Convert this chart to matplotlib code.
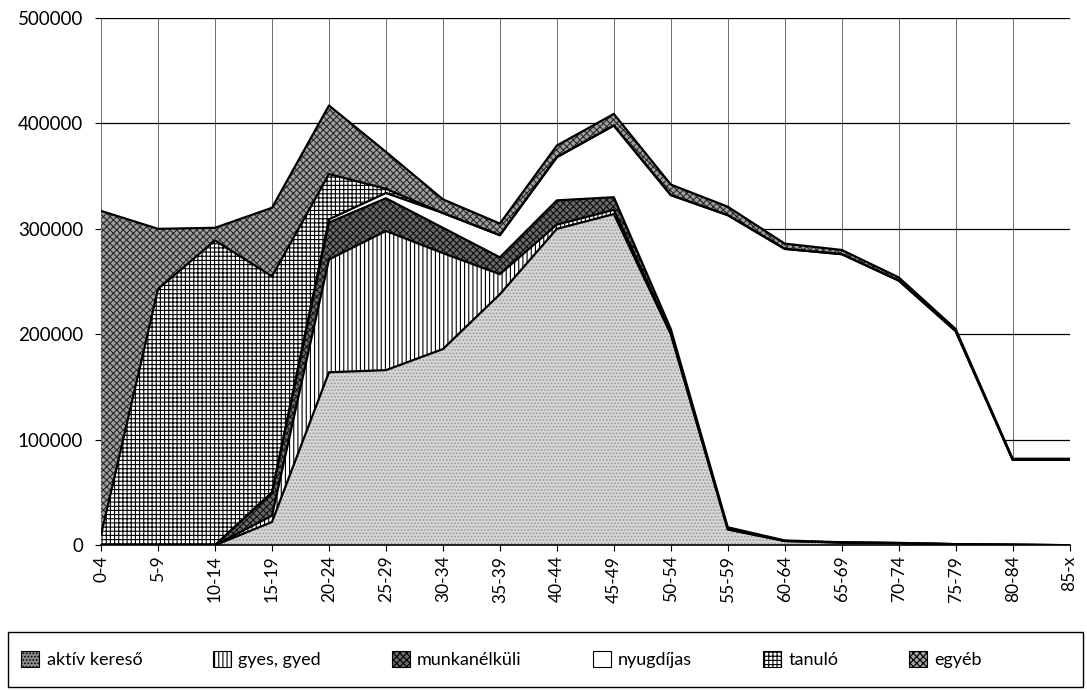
import matplotlib
matplotlib.use('Agg')
import matplotlib.pyplot as plt
from matplotlib.patches import Patch, Rectangle
import numpy as np

plt.rcParams['font.family'] = ['Lato', 'DejaVu Sans']
plt.rcParams['hatch.linewidth'] = 0.8

# korcsoportok
age_groups = ["0-4", "5-9", "10-14", "15-19", "20-24", "25-29", "30-34", "35-39",
              "40-44", "45-49", "50-54", "55-59", "60-64", "65-69", "70-74",
              "75-79", "80-84", "85-x"]

aktiv = [0, 0, 0, 22000, 164000, 166000, 186000, 238000, 300000, 314000,
         200000, 15000, 4000, 2500, 2000, 1000, 500, 0]
gyes = [0, 0, 0, 6000, 107000, 132000, 91000, 19000, 4000, 4000,
        1000, 0, 0, 0, 0, 0, 0, 0]
munkanelkuli = [0, 0, 0, 22000, 35000, 31000, 24000, 16000, 23000, 12000,
                4000, 2000, 500, 300, 200, 0, 0, 0]
nyugdijas = [0, 0, 0, 0, 3000, 5000, 14000, 21000, 41000, 68000,
             127000, 296000, 276500, 273200, 248800, 202000, 80500, 81000]
tanulo = [10000, 243000, 289000, 205000, 43000, 4000, 0, 0, 0, 0,
          0, 0, 0, 0, 0, 0, 0, 0]
egyeb = [307000, 57000, 12000, 65000, 65000, 35000, 13000, 11000, 11000, 11000,
         10000, 8000, 5000, 4000, 3000, 2000, 1000, 1000]

labels = ["aktív kereső", "gyes, gyed", "munkanélküli", "nyugdíjas", "tanuló", "egyéb"]
series = [aktiv, gyes, munkanelkuli, nyugdijas, tanulo, egyeb]

# kitöltés, mintázat, mintázat színe
styles = [
    ('#d6d6d6', '.....', '#9a9a9a'),
    ('white', '||||', 'black'),
    ('#6a6a6a', 'xxxxx', '#111111'),
    ('white', None, 'black'),
    ('white', '++++', 'black'),
    ('#a0a0a0', 'xxxxx', '#2a2a2a'),
]

fig = plt.figure(figsize=(10.87, 6.91), dpi=100)
ax = fig.add_axes([0.093, 0.211, 0.891, 0.763])

x = np.arange(len(age_groups))
bottom = np.zeros(len(x))
handles = []
for vals, lab, (fc, hatch, hc) in zip(series, labels, styles):
    top = bottom + np.array(vals)
    ax.fill_between(x, bottom, top, facecolor=fc, hatch=hatch,
                    edgecolor=hc, linewidth=0, zorder=2)
    ax.plot(x, top, color='black', linewidth=1.6, zorder=3)
    leg_fc = '#8c8c8c' if lab == "aktív kereső" else fc
    handles.append(Patch(facecolor=leg_fc, hatch=hatch, edgecolor='black',
                         linewidth=0.8))
    bottom = top

ax.set_xlim(0, len(x) - 1)
ax.set_ylim(0, 500000)
ax.set_xticks(x)
ax.set_xticklabels(age_groups, rotation=90, fontsize=12.5)
yt = [0, 100000, 200000, 300000, 400000, 500000]
ax.set_yticks(yt)
ax.set_yticklabels([str(v) for v in yt], fontsize=13.5)
ax.tick_params(axis='both', direction='out', length=4, width=0.8, colors='black')
ax.tick_params(axis='y', pad=9)

ax.grid(True, axis='y', color='black', linewidth=0.9)
ax.grid(True, axis='x', color='#555555', linewidth=0.6)
ax.set_axisbelow(True)
for side in ['top', 'right', 'left']:
    ax.spines[side].set_visible(False)
ax.spines['bottom'].set_linewidth(1.2)
ax.spines['bottom'].set_zorder(4)

# jelmagyarázat keret
W, H = 1087.0, 691.0
fig.patches.append(Rectangle((8 / W, 4 / H), 1075 / W, 55 / H, transform=fig.transFigure,
                             facecolor='none', edgecolor='black', linewidth=1.0))
leg = fig.legend(handles, labels, loc='center', ncol=6, mode='expand',
                 bbox_to_anchor=(14 / W, 4 / H, 975 / W, 55 / H), fontsize=13,
                 handlelength=1.0, handleheight=1.0, handletextpad=0.4,
                 frameon=False, borderaxespad=0)

plt.savefig('out.png', dpi=100, facecolor='white')
plt.close()
